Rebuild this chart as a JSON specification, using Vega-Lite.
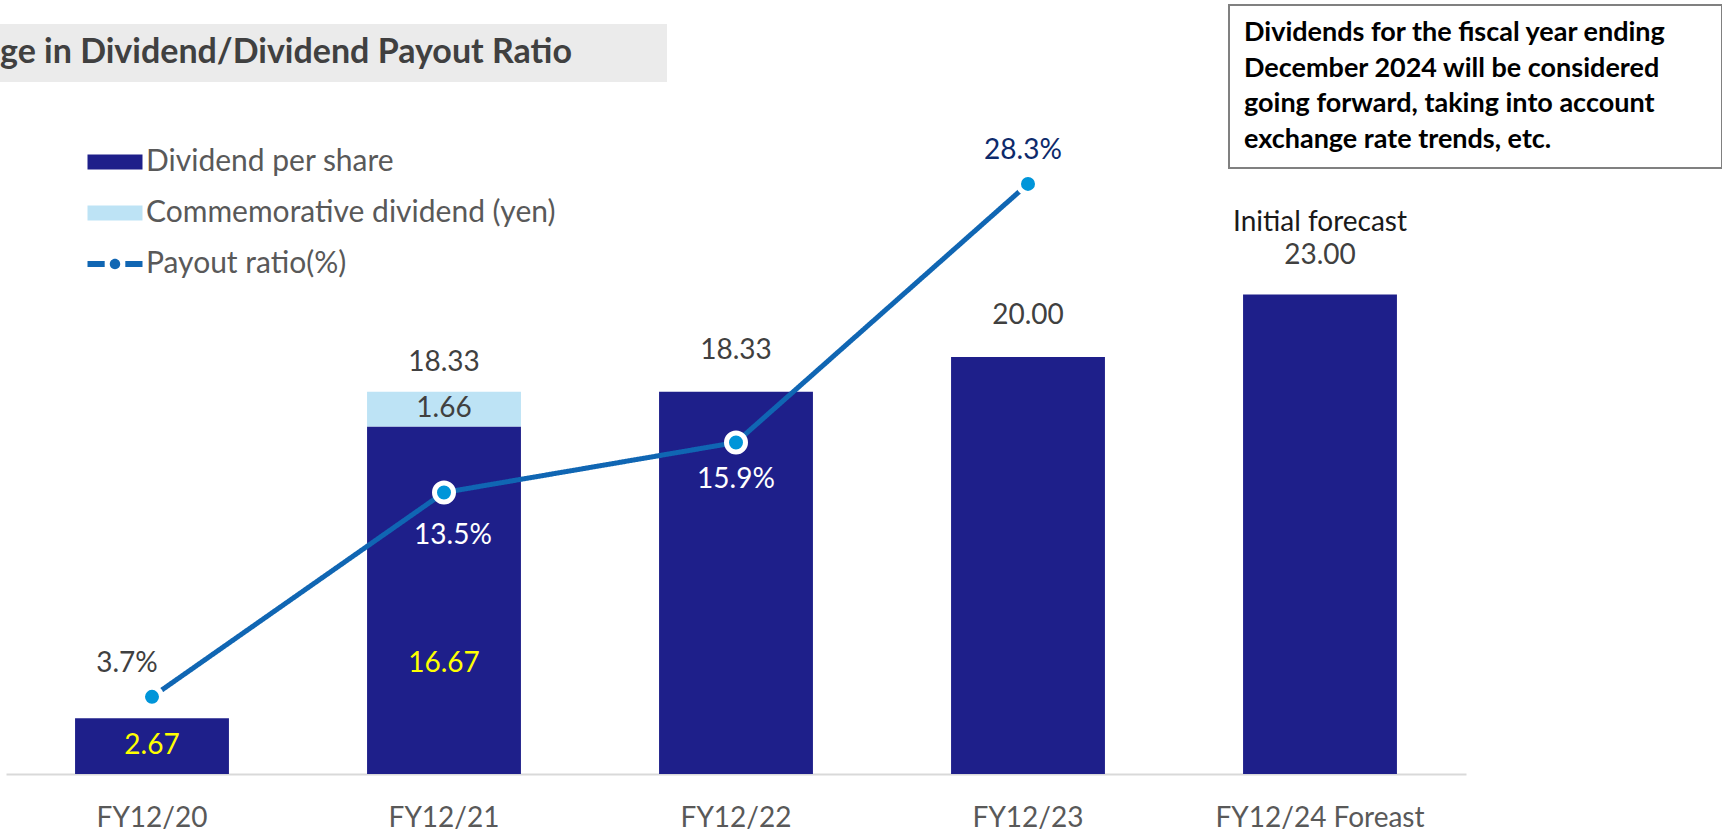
{
  "$schema": "https://vega.github.io/schema/vega-lite/v6.json",
  "width": 1722,
  "height": 774,
  "autosize": "none",
  "padding": {"left": 0, "top": 0, "right": 0, "bottom": 65},
  "background": "white",
  "config": {"view": {"stroke": null}, "font": "Lato"},
  "datasets": {
    "bars": [
      {"year": "FY12/20", "series": "Dividend per share", "value": 2.67},
      {"year": "FY12/21", "series": "Dividend per share", "value": 16.67},
      {"year": "FY12/21", "series": "Commemorative dividend (yen)", "value": 1.66},
      {"year": "FY12/22", "series": "Dividend per share", "value": 18.33},
      {"year": "FY12/23", "series": "Dividend per share", "value": 20.0},
      {"year": "FY12/24 Foreast", "series": "Dividend per share", "value": 23.0}
    ],
    "totals": [
      {"year": "FY12/21", "total": 18.33, "note": ""},
      {"year": "FY12/22", "total": 18.33, "note": ""},
      {"year": "FY12/23", "total": 20.0, "note": ""},
      {"year": "FY12/24 Foreast", "total": 23.0, "note": "Initial forecast"}
    ],
    "payout": [
      {"year": "FY12/20", "series": "Payout ratio(%)", "payout": 3.7},
      {"year": "FY12/21", "series": "Payout ratio(%)", "payout": 13.5},
      {"year": "FY12/22", "series": "Payout ratio(%)", "payout": 15.9},
      {"year": "FY12/23", "series": "Payout ratio(%)", "payout": 28.3}
    ]
  },
  "encoding": {
    "x": {
      "field": "year", "type": "nominal", "sort": null, "title": null,
      "scale": {"domain": ["FY12/20", "FY12/21", "FY12/22", "FY12/23", "FY12/24 Foreast"], "range": [6, 1466], "paddingInner": 0.473, "paddingOuter": 0.2365},
      "axis": {"labelAngle": 0, "ticks": false, "domainColor": "#d9d9d9", "domainWidth": 2, "labelColor": "#595959", "labelFontSize": 28, "labelFont": "Lato", "labelPadding": 30, "labelLimit": 500, "grid": false}
    }
  },
  "layer": [
    {
      "data": {"name": "bars"},
      "transform": [
        {"stack": "value", "groupby": ["year"], "sort": [{"field": "series", "order": "descending"}], "as": ["v0", "v1"]}
      ],
      "mark": {"type": "bar"},
      "encoding": {
        "y": {"field": "v0", "type": "quantitative", "scale": {"domain": [0, 37.12], "nice": false, "zero": true}, "axis": null},
        "y2": {"field": "v1"},
        "color": {
          "field": "series", "type": "nominal",
          "scale": {"domain": ["Dividend per share", "Commemorative dividend (yen)", "Payout ratio(%)"], "range": ["#1e1f8a", "#bde3f5", "#1066b3"]},
          "legend": {
            "title": null, "orient": "none", "legendX": 100, "legendY": 147, "padding": 0,
            "symbolSize": 756, "labelOffset": 16, "rowPadding": 21,
            "labelFontSize": 30, "labelColor": "#595959", "labelFont": "Lato", "labelLimit": 700,
            "encode": {
              "symbols": {"update": {
                "shape": {"signal": "datum.value === 'Payout ratio(%)' ? 'M-2,-0.22H-0.75V0.22H-2Z M0.75,-0.22H2V0.22H0.75Z M-0.38,0A0.38,0.38 0 1,0 0.38,0A0.38,0.38 0 1,0 -0.38,0Z' : 'M-2,-0.55H2V0.55H-2Z'"},
                "fill": {"scale": "color", "field": "value"},
                "stroke": {"value": "transparent"},
                "strokeWidth": {"value": 0},
                "opacity": {"value": 1},
                "fillOpacity": {"value": 1}
              }}
            }
          }
        }
      }
    },
    {
      "data": {"name": "bars"},
      "transform": [
        {"stack": "value", "groupby": ["year"], "sort": [{"field": "series", "order": "descending"}], "as": ["v0", "v1"]},
        {"filter": "datum.year === 'FY12/20' || datum.series === 'Commemorative dividend (yen)'"},
        {"calculate": "(datum.v0 + datum.v1) / 2", "as": "mid"}
      ],
      "mark": {"type": "text", "fontSize": 28, "font": "Lato", "baseline": "middle"},
      "encoding": {
        "y": {"field": "mid", "type": "quantitative"},
        "text": {"field": "value", "type": "quantitative", "format": ".2f"},
        "color": {"condition": {"test": "datum.series === 'Commemorative dividend (yen)'", "value": "#404040"}, "value": "#ffff00"}
      }
    },
    {
      "data": {"name": "bars"},
      "transform": [
        {"filter": "datum.year === 'FY12/21' && datum.series === 'Dividend per share'"}
      ],
      "mark": {"type": "text", "fontSize": 28, "font": "Lato", "baseline": "middle", "color": "#ffff00", "dy": 238},
      "encoding": {
        "y": {"field": "value", "type": "quantitative"},
        "text": {"field": "value", "type": "quantitative", "format": ".2f"}
      }
    },
    {
      "data": {"name": "totals"},
      "transform": [{"filter": "datum.year === 'FY12/22' || datum.year === 'FY12/23'"}],
      "mark": {"type": "text", "fontSize": 28, "font": "Lato", "baseline": "middle", "color": "#404040", "dy": -41},
      "encoding": {
        "y": {"field": "total", "type": "quantitative"},
        "text": {"field": "total", "type": "quantitative", "format": ".2f"}
      }
    },
    {
      "data": {"name": "totals"},
      "transform": [{"filter": "datum.year === 'FY12/24 Foreast'"}],
      "mark": {"type": "text", "fontSize": 28, "font": "Lato", "baseline": "middle", "color": "#404040", "dy": -38},
      "encoding": {
        "y": {"field": "total", "type": "quantitative"},
        "text": {"field": "total", "type": "quantitative", "format": ".2f"}
      }
    },
    {
      "data": {"name": "totals"},
      "transform": [{"filter": "datum.year === 'FY12/21'"}],
      "mark": {"type": "text", "fontSize": 28, "font": "Lato", "baseline": "middle", "color": "#404040", "dy": -29},
      "encoding": {
        "y": {"field": "total", "type": "quantitative"},
        "text": {"field": "total", "type": "quantitative", "format": ".2f"}
      }
    },
    {
      "data": {"name": "totals"},
      "transform": [{"filter": "datum.note !== ''"}],
      "mark": {"type": "text", "fontSize": 28, "font": "Lato", "baseline": "middle", "color": "#1a1a1a", "dy": -71},
      "encoding": {
        "y": {"field": "total", "type": "quantitative"},
        "text": {"field": "note", "type": "nominal"}
      }
    },
    {
      "data": {"name": "payout"},
      "mark": {"type": "line", "strokeWidth": 5},
      "encoding": {
        "y": {"field": "payout", "type": "quantitative"},
        "color": {"field": "series", "type": "nominal"},
        "strokeDash": {
          "field": "series", "type": "nominal",
          "scale": {"range": [[1, 0]]},
          "legend": {
            "title": ["Dividends for the fiscal year ending", "December 2024 will be considered", "going forward, taking into account", "exchange rate trends, etc."],
            "titleFont": "Lato", "titleFontSize": 27, "titleFontWeight": "bold", "titleColor": "#000000",
            "titleLineHeight": 35.5, "titleOrient": "left", "titleBaseline": "top", "titleAnchor": "start", "titlePadding": 33, "titleLimit": 1000,
            "orient": "none", "legendX": 1229, "legendY": 5, "padding": 15,
            "strokeColor": "#808080",
            "symbolOpacity": 0, "symbolSize": 1, "labelOpacity": 0, "labelFontSize": 1, "labelExpr": "''",
            "encode": {"legend": {"update": {"strokeWidth": {"value": 2}}}}
          }
        }
      }
    },
    {
      "data": {"name": "payout"},
      "mark": {"type": "point", "filled": true, "fill": "#0095d9", "stroke": "white", "strokeWidth": 5, "size": 361, "opacity": 1},
      "encoding": {
        "y": {"field": "payout", "type": "quantitative"},
        "shape": {
          "field": "series", "type": "nominal",
          "scale": {"domain": ["Payout ratio(%)"], "range": ["circle"]},
          "legend": {
            "title": "ge in Dividend/Dividend Payout Ratio",
            "titleFont": "Lato", "titleFontSize": 34, "titleFontWeight": "bold", "titleColor": "#404040",
            "titleOrient": "left", "titleBaseline": "top", "titleAnchor": "start", "titlePadding": 76, "titleLimit": 1000,
            "orient": "none", "legendX": -12, "legendY": 24, "padding": 12,
            "fillColor": "#ebebeb",
            "symbolOpacity": 0, "symbolSize": 1, "labelOpacity": 0, "labelFontSize": 1, "labelExpr": "''"
          }
        }
      }
    },
    {
      "data": {"name": "payout"},
      "transform": [{"filter": "datum.year === 'FY12/20'"}, {"calculate": "format(datum.payout, '.1f') + '%'", "as": "label"}],
      "mark": {"type": "text", "fontSize": 28, "font": "Lato", "baseline": "middle", "dy": -33, "dx": -25, "color": "#404040"},
      "encoding": {
        "y": {"field": "payout", "type": "quantitative"},
        "text": {"field": "label", "type": "nominal"}
      }
    },
    {
      "data": {"name": "payout"},
      "transform": [{"filter": "datum.year === 'FY12/23'"}, {"calculate": "format(datum.payout, '.1f') + '%'", "as": "label"}],
      "mark": {"type": "text", "fontSize": 28, "font": "Lato", "baseline": "middle", "dy": -33, "dx": -5, "color": "#0d2a6b"},
      "encoding": {
        "y": {"field": "payout", "type": "quantitative"},
        "text": {"field": "label", "type": "nominal"}
      }
    },
    {
      "data": {"name": "payout"},
      "transform": [{"filter": "datum.year === 'FY12/21'"}, {"calculate": "format(datum.payout, '.1f') + '%'", "as": "label"}],
      "mark": {"type": "text", "fontSize": 28, "font": "Lato", "baseline": "middle", "dy": 43, "dx": 9, "color": "white"},
      "encoding": {
        "y": {"field": "payout", "type": "quantitative"},
        "text": {"field": "label", "type": "nominal"}
      }
    },
    {
      "data": {"name": "payout"},
      "transform": [{"filter": "datum.year === 'FY12/22'"}, {"calculate": "format(datum.payout, '.1f') + '%'", "as": "label"}],
      "mark": {"type": "text", "fontSize": 28, "font": "Lato", "baseline": "middle", "dy": 38, "color": "white"},
      "encoding": {
        "y": {"field": "payout", "type": "quantitative"},
        "text": {"field": "label", "type": "nominal"}
      }
    }
  ]
}
